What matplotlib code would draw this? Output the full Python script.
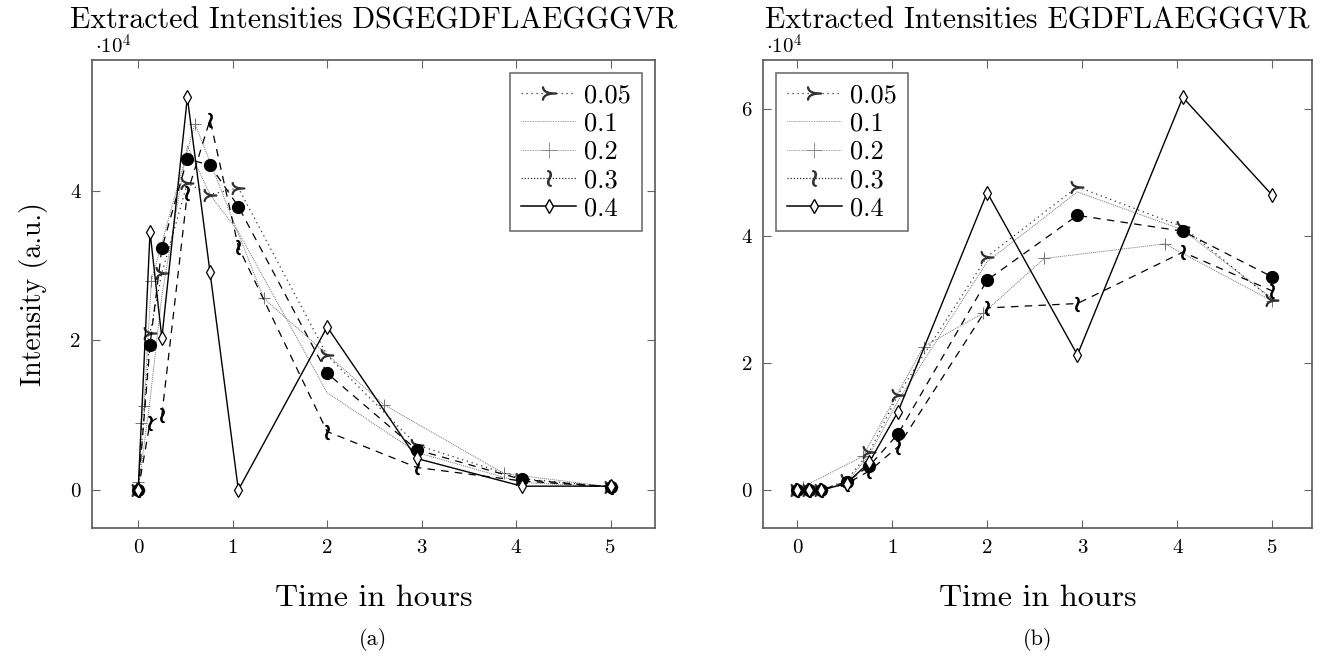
import matplotlib
matplotlib.use('Agg')
import matplotlib.pyplot as plt
from matplotlib.lines import Line2D

plt.rcParams['font.family'] = ['cmr10', 'DejaVu Serif']
plt.rcParams['mathtext.fontset'] = 'cm'
plt.rcParams['axes.unicode_minus'] = False

# sampling times (hours), shared by most series
t = [0, 0.125, 0.25, 0.52, 0.76, 1.06, 2, 2.95, 4.06, 5]
# the "+" series is sampled on its own grid
t_plus_a = [0, 0.03, 0.06, 0.14, 0.6, 1.33, 2.6, 3.87, 5]
t_plus_b = [0, 0.06, 0.69, 1.33, 1.96, 2.6, 3.87, 5]

# intensities in units of 1e4 -- (a) DSGEGDFLAEGGGVR
a_005 = [0, 2.1, 2.9, 4.1, 3.95, 4.04, 1.8, 0.6, 0.15, 0.04]
a_01 = [0, 1.2, 2.6, 4.6, 3.95, 3.45, 1.3, 0.5, 0.1, 0.04]
a_02 = [0.1, 0.9, 1.12, 2.8, 4.9, 2.56, 1.14, 0.22, 0.04]
a_03 = [0, 0.9, 1.0, 3.97, 4.95, 3.25, 0.78, 0.3, 0.12, 0.04]
a_04 = [0, 3.45, 2.03, 5.25, 2.91, 0, 2.18, 0.42, 0.05, 0.05]
a_dots = [0, 1.94, 3.23, 4.43, 4.34, 3.79, 1.56, 0.535, 0.14, 0.04]

# (b) EGDFLAEGGGVR
b_005 = [0, 0, 0, 0.15, 0.6, 1.5, 3.68, 4.78, 4.15, 3.0]
b_01 = [0, 0, 0, 0.12, 0.55, 1.4, 3.6, 4.7, 4.1, 3.02]
b_02 = [0, 0.05, 0.53, 2.26, 2.79, 3.65, 3.88, 2.98]
b_03 = [0, 0, 0, 0.1, 0.3, 0.68, 2.87, 2.94, 3.75, 3.14]
b_04 = [0, 0, 0, 0.1, 0.44, 1.23, 4.69, 2.13, 6.19, 4.65]
b_dots = [0, 0, 0, 0.13, 0.38, 0.88, 3.31, 4.33, 4.08, 3.36]

labels = ['0.05', '0.1', '0.2', '0.3', '0.4']
titles = ['Extracted Intensities DSGEGDFLAEGGGVR', 'Extracted Intensities EGDFLAEGGGVR']

fig = plt.figure(figsize=(13.21, 6.57), dpi=100)
ax1 = fig.add_axes([0.0696, 0.1963, 0.4262, 0.7124])
ax2 = fig.add_axes([0.5776, 0.1963, 0.4156, 0.7124])

succ = r'$\succ$'
wr = r'$\wr$'


def draw(ax, s005, s01, tp, s02, s03, s04, dots):
    ax.plot(t, s01, color='0.45', lw=0.7, ls=(0, (1, 1)))
    ax.plot(tp, s02, color='0.45', lw=0.7, ls=(0, (1, 1)), marker='+', ms=9, mew=0.7)
    ax.plot(t, s005, color='0.2', lw=0.9, ls=(0, (1, 3)), marker=succ, ms=9)
    ax.plot(t, s03, color='black', lw=0.9, ls=(0, (6, 5)), marker=wr, ms=10)
    ax.plot(t, dots, color='black', lw=0.9, ls=(0, (6, 5)), marker='o', ms=8.5)
    ax.plot(t, s04, color='black', lw=1.0, marker='d', ms=7, mfc='white', mec='black', mew=0.9)


draw(ax1, a_005, a_01, t_plus_a, a_02, a_03, a_04, a_dots)
draw(ax2, b_005, b_01, t_plus_b, b_02, b_03, b_04, b_dots)

# legend handles as they appear in the legend box
handles = [
    Line2D([], [], color='0.2', lw=0.9, ls=(0, (1, 3)), marker=succ, ms=10),
    Line2D([], [], color='0.5', lw=0.6, ls=(0, (1, 1))),
    Line2D([], [], color='0.5', lw=0.6, ls=(0, (1, 1)), marker='+', ms=11, mew=0.6),
    Line2D([], [], color='0.2', lw=0.9, ls=(0, (1, 1.5)), marker=wr, ms=11),
    Line2D([], [], color='black', lw=1.1, marker='d', ms=7.5, mfc='white', mec='black'),
]

ax1.set_xlim(-0.49, 5.47)
ax1.set_ylim(-0.51, 5.75)
ax1.set_yticks([0, 2, 4])
ax2.set_xlim(-0.36, 5.42)
ax2.set_ylim(-0.6, 6.78)
ax2.set_yticks([0, 2, 4, 6])

for ax, title, loc in [(ax1, titles[0], 'upper right'), (ax2, titles[1], 'upper left')]:
    ax.set_xticks([0, 1, 2, 3, 4, 5])
    ax.tick_params(direction='in', top=True, right=True, length=6, width=0.8,
                   color='0.4', labelsize=15, pad=8)
    ax.set_yticklabels([str(int(v)) for v in ax.get_yticks()])
    for sp in ax.spines.values():
        sp.set_color('0.35')
        sp.set_linewidth(1.2)
    ax.set_xlabel('Time in hours', fontsize=23, labelpad=20)
    ax.set_title(title, fontsize=21.5, pad=23)
    ax.text(0.005, 1.005, r'$\cdot 10^4$', transform=ax.transAxes, fontsize=15,
            ha='left', va='bottom')
    leg = ax.legend(handles, labels, loc=loc, fontsize=19, frameon=True, fancybox=False,
                    handlelength=2.1, handletextpad=0.3, borderpad=0.4, labelspacing=0.17,
                    borderaxespad=0.5)
    leg.get_frame().set_edgecolor('0.3')
    leg.get_frame().set_linewidth(1.2)

ax1.set_ylabel('Intensity (a.u.)', fontsize=20, labelpad=16)

fig.text(0.2827, 0.026, '(a)', fontsize=16, ha='center', va='center')
fig.text(0.7854, 0.026, '(b)', fontsize=16, ha='center', va='center')

fig.savefig('out.png', dpi=100)
